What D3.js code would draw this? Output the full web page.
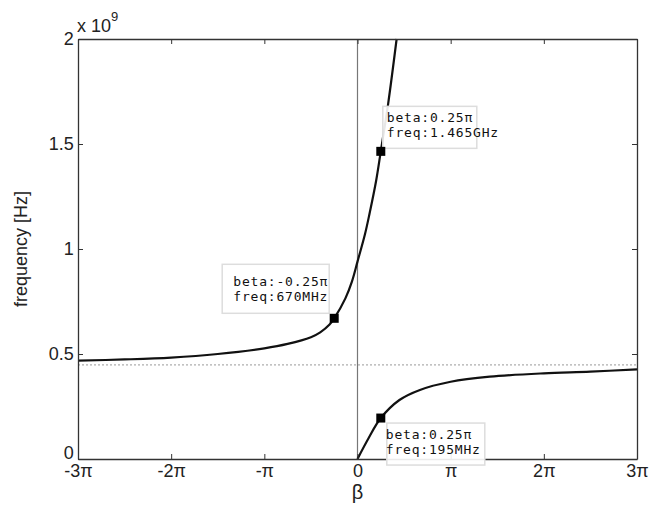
<!DOCTYPE html>
<html>
<head>
<meta charset="utf-8">
<script src="https://cdn.jsdelivr.net/npm/d3@7"></script>
<style>
  body { margin: 0; background: #fff; }
  text { font-family: "Liberation Sans", Arial, sans-serif; fill: #222; }
  .tip text { font-family: "DejaVu Sans Mono", monospace; font-size: 13px; letter-spacing: 0.8px; fill: #111; }
</style>
</head>
<body>
<svg id="chart" width="659" height="510"></svg>
<script>
// beta in units of pi, frequency in GHz (x 10^9 Hz)
var upperBeta = [-3, -2.5, -2, -1.5, -1, -0.75, -0.5, -0.4, -0.3, -0.25, -0.13, -0.06, 0, 0.08, 0.13, 0.2, 0.25, 0.33, 0.42]
var upperFreq = [0.468, 0.474, 0.483, 0.5, 0.527, 0.548, 0.58, 0.603, 0.64, 0.67, 0.765, 0.845, 0.94, 1.07, 1.17, 1.325, 1.465, 1.695, 2.0]
var lowerBeta = [0, 0.12, 0.25, 0.45, 0.67, 1, 1.42, 2, 2.5, 3]
var lowerFreq = [0, 0.1, 0.195, 0.281, 0.329, 0.368, 0.392, 0.408, 0.416, 0.427]
var asymptote = 0.448

var xTicks = [-3, -2, -1, 0, 1, 2, 3]
var xTickLabels = ["-3\u03c0", "-2\u03c0", "-\u03c0", "0", "\u03c0", "2\u03c0", "3\u03c0"]
var yTicks = [0, 0.5, 1, 1.5, 2]
var yTickLabels = ["0", "0.5", "1", "1.5", "2"]

var tipBeta = [0.25, -0.25, 0.25]
var tipFreq = [1.465, 0.67, 0.195]
var tipLine1 = ["beta:0.25\u03c0", "beta:-0.25\u03c0", "beta:0.25\u03c0"]
var tipLine2 = ["freq:1.465GHz", "freq:670MHz", "freq:195MHz"]

var svg = d3.select("#chart")
var margin = {left: 78, right: 22, top: 39, bottom: 51}
var width = 659 - margin.left - margin.right
var height = 510 - margin.top - margin.bottom

var g = svg.append("g").attr("transform", "translate(" + margin.left + "," + margin.top + ")")

var x = d3.scaleLinear().domain([-3, 3]).range([0, width])
var y = d3.scaleLinear().domain([0, 2]).range([height, 0])

// reference lines
g.append("line")
    .attr("x1", x(0)).attr("x2", x(0))
    .attr("y1", 0).attr("y2", height)
    .attr("stroke", "#777").attr("stroke-width", 1.2)
g.append("line")
    .attr("x1", 0).attr("x2", width)
    .attr("y1", y(asymptote)).attr("y2", y(asymptote))
    .attr("stroke", "#999").attr("stroke-width", 1)
    .attr("stroke-dasharray", "2,2")

// curves
var line = d3.line()
    .x(function(d) { return x(d[0]) })
    .y(function(d) { return y(d[1]) })
    .curve(d3.curveCatmullRom.alpha(0.5))

g.append("path")
    .datum(d3.zip(upperBeta, upperFreq))
    .attr("d", line)
    .attr("fill", "none").attr("stroke", "#111").attr("stroke-width", 2.2)
g.append("path")
    .datum(d3.zip(lowerBeta, lowerFreq))
    .attr("d", line)
    .attr("fill", "none").attr("stroke", "#111").attr("stroke-width", 2.2)

// axes (matlab style: ticks inward, box all round)
var fmtX = function(d, i) { return xTickLabels[i] }
var fmtY = function(d, i) { return yTickLabels[i] }
var axB = g.append("g").attr("class", "axis").attr("transform", "translate(0," + height + ")")
    .call(d3.axisBottom(x).tickValues(xTicks).tickFormat(fmtX).tickSizeInner(-5).tickSizeOuter(0).tickPadding(7))
var axT = g.append("g").attr("class", "axis")
    .call(d3.axisTop(x).tickValues(xTicks).tickFormat("").tickSizeInner(-5).tickSizeOuter(0))
var axL = g.append("g").attr("class", "axis")
    .call(d3.axisLeft(y).tickValues(yTicks).tickFormat(fmtY).tickSizeInner(-5).tickSizeOuter(0).tickPadding(6))
var axR = g.append("g").attr("class", "axis").attr("transform", "translate(" + width + ",0)")
    .call(d3.axisRight(y).tickValues(yTicks).tickFormat("").tickSizeInner(-5).tickSizeOuter(0))

g.selectAll(".axis path").attr("stroke", "#333").attr("stroke-width", 1.3)
g.selectAll(".axis line").attr("stroke", "#333")
g.selectAll(".axis text")
    .attr("font-family", "Liberation Sans, Arial, sans-serif")
    .attr("font-size", 18).attr("fill", "#222")
axB.selectAll("text").attr("dy", "0.62em")
axL.selectAll("text").attr("dx", "0.1em").attr("dy", function(d) { return d == 0 ? "-0.05em" : "0.32em" })

// exponent
var expo = svg.append("text").attr("x", margin.left - 1).attr("y", 32).attr("font-size", 18)
expo.append("tspan").text("x 10")
expo.append("tspan").attr("dy", -11).attr("font-size", 13).text("9")

// axis labels
svg.append("text")
    .attr("x", margin.left + x(0)).attr("y", 499)
    .attr("text-anchor", "middle").attr("font-size", 20)
    .text("\u03b2")
svg.append("text")
    .attr("transform", "translate(27," + (margin.top + height / 2) + ") rotate(-90)")
    .attr("text-anchor", "middle").attr("font-size", 18)
    .text("frequency [Hz]")

// data tips
var tips = g.selectAll(".tip").data(d3.range(tipBeta.length)).enter()
    .append("g").attr("class", "tip")
    .attr("transform", function(i) { return "translate(" + x(tipBeta[i]) + "," + y(tipFreq[i]) + ")" })

var tipBox = [[2, -45, 94, 42], [-112, -54, 107, 49], [6, 5, 98, 42]]
var tipText = [[6, -29], [-6, -32], [5, 21]]

tips.append("rect")
    .attr("x", function(i) { return tipBox[i][0] })
    .attr("y", function(i) { return tipBox[i][1] })
    .attr("width", function(i) { return tipBox[i][2] })
    .attr("height", function(i) { return tipBox[i][3] })
    .attr("fill", "#fff").attr("fill-opacity", 0.9)
    .attr("stroke", "#ddd").attr("stroke-width", 1.5)

tips.each(function(i) {
    var t = d3.select(this).append("text")
        .attr("x", tipText[i][0]).attr("y", tipText[i][1])
        .attr("text-anchor", i == 1 ? "end" : "start")
    t.append("tspan").attr("x", tipText[i][0]).text(tipLine1[i])
    t.append("tspan").attr("x", tipText[i][0]).attr("dy", 15).text(tipLine2[i])
})

tips.append("rect")
    .attr("x", -4.5).attr("y", -4.5).attr("width", 9).attr("height", 9)
    .attr("fill", "#000")
</script>
</body>
</html>
